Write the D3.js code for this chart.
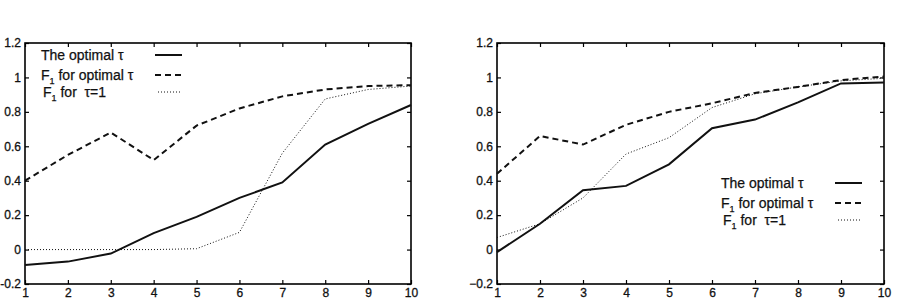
<!DOCTYPE html>
<html>
<head>
<meta charset="utf-8">
<script src="https://cdn.jsdelivr.net/npm/d3@7"></script>
<style>
body { margin: 0; background: #fff; }
svg { display: block; font-family: Arial, Helvetica, sans-serif; }
</style>
</head>
<body>
<svg id="chart" width="916" height="306"></svg>
<script>
var xs = [1, 2, 3, 4, 5, 6, 7, 8, 9, 10];
var yTicks = [-0.2, 0, 0.2, 0.4, 0.6, 0.8, 1, 1.2];
var legendNames = ["The optimal \u03c4", "for optimal \u03c4", "for  \u03c4=1"];

// left panel
var leftOpt = [-0.09, -0.07, -0.023, 0.096, 0.19, 0.30, 0.39, 0.61, 0.73, 0.84];
var leftF1Opt = [0.40, 0.55, 0.68, 0.52, 0.72, 0.82, 0.89, 0.93, 0.95, 0.955];
var leftF1One = [0, 0, 0, 0, 0.005, 0.10, 0.56, 0.875, 0.93, 0.95];

// right panel
var rightOpt = [-0.015, 0.15, 0.345, 0.37, 0.495, 0.705, 0.755, 0.855, 0.965, 0.97];
var rightF1Opt = [0.44, 0.66, 0.61, 0.725, 0.80, 0.85, 0.91, 0.945, 0.985, 1.005];
var rightF1One = [0.07, 0.15, 0.30, 0.555, 0.65, 0.825, 0.905, 0.945, 0.98, 0.995];

var svg = d3.select("#chart");

var styles = [
    {w: 2, dash: null},
    {w: 2, dash: "6,4"},
    {w: 1, dash: "1,2"}
];

function panel(left, right, series, legX, legY, minusSign) {
    var top = 43, bottom = 284;
    var x = d3.scaleLinear().domain([1, 10]).range([left, right]);
    var y = d3.scaleLinear().domain([-0.2, 1.2]).range([bottom, top]);
    var g = svg.append("g");

    var fmt = function(d) {
        if (d < 0) return minusSign + d3.format("")(-d);
        return d3.format("")(d);
    };

    g.append("g").attr("transform", "translate(" + left + ",0)")
        .call(d3.axisLeft(y).tickValues(yTicks).tickSizeInner(-4).tickSizeOuter(0).tickPadding(4).tickFormat(fmt));
    g.append("g").attr("transform", "translate(" + right + ",0)")
        .call(d3.axisRight(y).tickValues(yTicks).tickSizeInner(-4).tickSizeOuter(0).tickFormat(""));
    g.append("g").attr("transform", "translate(0," + bottom + ")")
        .call(d3.axisBottom(x).tickValues(xs).tickSizeInner(-4).tickSizeOuter(0).tickPadding(4).tickFormat(d3.format("d")));
    g.append("g").attr("transform", "translate(0," + top + ")")
        .call(d3.axisTop(x).tickValues(xs).tickSizeInner(-4).tickSizeOuter(0).tickFormat(""));

    g.selectAll(".domain").remove();
    g.selectAll(".tick line").attr("stroke", "#000").attr("stroke-width", 1.2);
    g.selectAll(".tick text").attr("fill", "#111").attr("stroke", "#111").attr("stroke-width", 0.3)
        .attr("font-size", 12).attr("font-family", "Arial, Helvetica, sans-serif");

    g.append("rect").attr("x", left).attr("y", top)
        .attr("width", right - left).attr("height", bottom - top)
        .attr("fill", "none").attr("stroke", "#000").attr("stroke-width", 1.6);

    var line = d3.line().x(function(d, i) { return x(xs[i]); }).y(function(d) { return y(d); });
    series.forEach(function(s, k) {
        g.append("path").datum(s).attr("d", line)
            .attr("fill", "none").attr("stroke", "#111")
            .attr("stroke-width", styles[k].w)
            .attr("stroke-dasharray", styles[k].dash);
    });

    // legend
    var rows = [0, 20, 37];
    legendNames.forEach(function(name, k) {
        var t = g.append("text").attr("x", legX + (k == 2 ? 2 : 0)).attr("y", legY + rows[k] + 5)
            .attr("fill", "#111").attr("stroke", "#111").attr("stroke-width", 0.25)
            .attr("font-size", 14).attr("font-family", "Arial, Helvetica, sans-serif")
            .style("white-space", "pre");
        if (k == 0) {
            t.text(name);
        } else {
            t.append("tspan").text("F");
            t.append("tspan").attr("dy", 4).attr("font-size", 9).text("1");
            t.append("tspan").attr("dy", -4).text(" " + name);
        }
        g.append("line").attr("x1", legX + 114 + (k == 2 ? 3 : 0)).attr("x2", legX + 141)
            .attr("y1", legY + rows[k]).attr("y2", legY + rows[k])
            .attr("stroke", "#111").attr("stroke-width", styles[k].w)
            .attr("stroke-dasharray", styles[k].dash);
    });
}

panel(25, 411, [leftOpt, leftF1Opt, leftF1One], 41, 55, "-");
panel(497, 884, [rightOpt, rightF1Opt, rightF1One], 721, 183, "\u2212");
</script>
</body>
</html>
